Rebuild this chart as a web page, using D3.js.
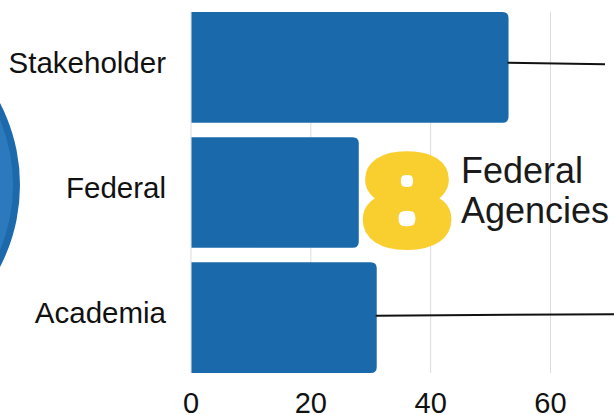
<!DOCTYPE html>
<html>
<head>
<meta charset="utf-8">
<script src="https://cdn.jsdelivr.net/npm/d3@7"></script>
<style>
  body { margin: 0; background: #fff; }
  svg { display: block; }
</style>
</head>
<body>
<script>
// chart data
var categories = ["Stakeholder", "Federal", "Academia"];
var values = [53, 28, 31];
var xTicks = [0, 20, 40, 60];
var callout = { number: "8", lines: ["Federal", "Agencies"] };

var width = 614, height = 415;

var svg = d3.select("body").append("svg")
    .attr("width", width)
    .attr("height", height);

// scales
var xScale = d3.scaleLinear()
    .domain([0, 70])
    .range([191, 610.4]);

var yScale = d3.scaleBand()
    .domain(categories)
    .range([12, 373])
    .paddingInner(0.116)
    .paddingOuter(0);

// decorative circle on the left, mostly off screen
svg.append("circle")
    .attr("cx", -158)
    .attr("cy", 185)
    .attr("r", 178)
    .attr("fill", "#1c6aab");
svg.append("circle")
    .attr("cx", -158)
    .attr("cy", 185)
    .attr("r", 171)
    .attr("fill", "#2d79bd");

// gridlines
svg.append("g")
    .selectAll("line")
    .data(xTicks)
    .enter()
    .append("line")
    .attr("x1", function(d) { return xScale(d); })
    .attr("x2", function(d) { return xScale(d); })
    .attr("y1", yScale.range()[0])
    .attr("y2", yScale.range()[1])
    .attr("stroke", "#dcdcdc")
    .attr("stroke-width", 1);

// bars with rounded right end
var r = 6;
function barPath(d, i) {
    var x0 = xScale(0) + 0.5, x1 = xScale(values[i]);
    var y0 = yScale(d), y1 = y0 + yScale.bandwidth();
    return "M" + x0 + "," + y0 +
        "H" + (x1 - r) +
        "Q" + x1 + "," + y0 + " " + x1 + "," + (y0 + r) +
        "V" + (y1 - r) +
        "Q" + x1 + "," + y1 + " " + (x1 - r) + "," + y1 +
        "H" + x0 + "Z";
}
svg.append("g")
    .selectAll("path")
    .data(categories)
    .enter()
    .append("path")
    .attr("d", barPath)
    .attr("fill", "#1a6aab");

// category labels
svg.append("g")
    .selectAll("text")
    .data(categories)
    .enter()
    .append("text")
    .attr("x", 166)
    .attr("y", function(d) { return yScale(d) + yScale.bandwidth() / 2 + 5.5; })
    .attr("text-anchor", "end")
    .attr("font-family", "Liberation Sans, Arial, sans-serif")
    .attr("font-size", "29.5px")
    .attr("fill", "#111")
    .text(function(d) { return d; });

// x axis tick labels
svg.append("g")
    .selectAll("text")
    .data(xTicks)
    .enter()
    .append("text")
    .attr("x", function(d) { return xScale(d); })
    .attr("y", 413)
    .attr("text-anchor", "middle")
    .attr("font-family", "Liberation Sans, Arial, sans-serif")
    .attr("font-size", "29px")
    .attr("fill", "#111")
    .text(function(d) { return d; });

// leader lines from the Stakeholder and Academia bars
var leaders = [
    { cat: "Stakeholder", end: 605, off: -4.5, dy: 1.5 },
    { cat: "Academia", end: 620, off: -2, dy: -1.5 }
];
svg.append("g")
    .selectAll("line")
    .data(leaders)
    .enter()
    .append("line")
    .attr("x1", function(d) { return xScale(values[categories.indexOf(d.cat)]) - 1; })
    .attr("x2", function(d) { return d.end; })
    .attr("y1", function(d) { return yScale(d.cat) + yScale.bandwidth() / 2 + d.off; })
    .attr("y2", function(d) { return yScale(d.cat) + yScale.bandwidth() / 2 + d.off + d.dy; })
    .attr("stroke", "#111")
    .attr("stroke-width", 2);

// big yellow "8"
svg.append("text")
    .attr("transform", "translate(407,243) scale(1.22,1)")
    .attr("text-anchor", "middle")
    .attr("font-family", "Liberation Sans, Arial, sans-serif")
    .attr("font-weight", "bold")
    .attr("font-size", "123px")
    .attr("fill", "#f9cf30")
    .attr("stroke", "#f9cf30")
    .attr("stroke-width", 12)
    .attr("stroke-linejoin", "round")
    .text(callout.number);

// "Federal Agencies" text
svg.append("text")
    .attr("font-family", "Liberation Sans, Arial, sans-serif")
    .attr("font-size", "36px")
    .attr("fill", "#1a1a1a")
    .selectAll("tspan")
    .data(callout.lines)
    .enter()
    .append("tspan")
    .attr("x", 461)
    .attr("y", function(d, i) { return 183 + i * 40; })
    .text(function(d) { return d; });
</script>
</body>
</html>
